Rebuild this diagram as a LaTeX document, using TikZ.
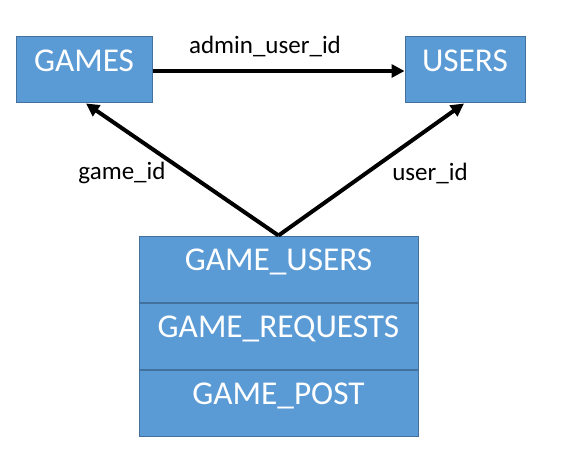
\documentclass[tikz,border=0pt]{standalone}
\usepackage{fontspec}
\setmainfont{Carlito}
\usetikzlibrary{positioning,arrows.meta}

\definecolor{boxfill}{HTML}{5B9BD5}
\definecolor{boxline}{HTML}{41719C}

\begin{document}
\begin{tikzpicture}[x=1pt, y=-1pt,
  table/.style={rectangle, fill=boxfill, draw=boxline, line width=1pt, text=white,
    font=\fontsize{33.3}{38}\selectfont, text height=21.5pt, text depth=18.5pt, inner sep=0pt},
  key/.style={font=\fontsize{25}{29}\selectfont, text=black},
  link/.style={-{Triangle[length=13pt,width=13pt]}, line width=4pt, draw=black}]

\useasboundingbox (0,0) rectangle (572,462);

\node [table, minimum width=136pt, minimum height=66pt] (GAMES) at (84, 70) {GAMES};
\node [table, minimum width=120pt, minimum height=66pt] (USERS) at (465, 70) {USERS};

\node [table, minimum width=279pt, minimum height=66pt] (GU) at (278.5, 269) {GAME\_USERS};
\node [table, minimum width=279pt, minimum height=66pt, below=0pt of GU] (GR) {GAME\_REQUESTS};
\node [table, minimum width=279pt, minimum height=66pt, below=0pt of GR] (GP) {GAME\_POST};

\node [key] (admin) at (265, 47) {admin\_user\_id};
\node [key] (gameid) at (122, 173) {game\_id};
\node [key] (userid) at (430, 173) {user\_id};

\draw [link] (GAMES.east |- 0,71) to (USERS.west |- 0,71);
\draw [link] (GU.north) to ([xshift=2pt]GAMES.south);
\draw [link] (GU.north) to ([xshift=-1pt]USERS.south);

\end{tikzpicture}
\end{document}
